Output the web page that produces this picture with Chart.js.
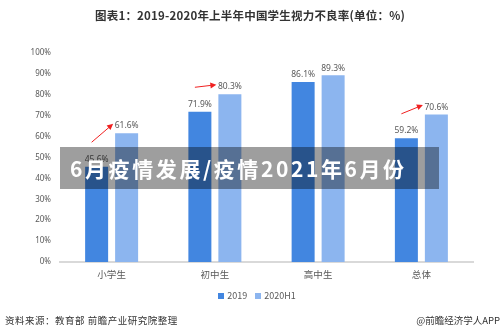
<!DOCTYPE html>
<html><head><meta charset="utf-8">
<script src="https://cdn.jsdelivr.net/npm/chart.js@4/dist/chart.umd.min.js"></script>
<style>
html,body{margin:0;padding:0;background:#fff;}
#wrap{position:relative;width:500px;height:336px;overflow:hidden;font-family:"Noto Sans CJK SC","Noto Sans",sans-serif;}
#c{position:absolute;left:0;top:0;}
.title{position:absolute;top:7px;left:0;width:500px;text-align:center;font-weight:bold;font-size:11.5px;letter-spacing:0.2px;color:#333;}
.legend{position:absolute;top:289px;left:7px;width:500px;text-align:center;font-size:9px;color:#595959;}
.legend span.sw{display:inline-block;width:6px;height:6px;margin-right:3px;vertical-align:0px;}
.src{position:absolute;top:313px;left:5px;font-size:9.5px;letter-spacing:0.5px;color:#333;}
.src2{position:absolute;top:313px;right:0;font-size:9.5px;color:#333;}
.banner{position:absolute;left:60px;top:147px;width:379px;height:42px;background:rgba(0,0,0,0.38);color:#fff;font-weight:bold;font-size:21px;letter-spacing:2.6px;line-height:42px;padding-left:10px;box-sizing:border-box;white-space:nowrap;}
</style></head>
<body><div id="wrap">
<canvas id="c" width="500" height="336"></canvas>
<div class="title">图表1：2019-2020年上半年中国学生视力不良率(单位：%)</div>
<div class="legend"><span class="sw" style="background:#4286E0"></span>2019&nbsp;&nbsp;&nbsp;&nbsp;<span class="sw" style="background:#8CB5EF"></span>2020H1</div>
<div class="src">资料来源：教育部 前瞻产业研究院整理</div>
<div class="src2">@前瞻经济学人APP</div>
<div class="banner">6月疫情发展/疫情2021年6月份</div>
</div>
<script>
const categories = ["小学生", "初中生", "高中生", "总体"];
const values2019 = [45.6, 71.9, 86.1, 59.2];
const values2020H1 = [61.6, 80.3, 89.3, 70.6];
const seriesNames = ["2019", "2020H1"];
const arrowCategories = [0, 1, 3];

const labelPlugin = {
  id: 'labels',
  afterDatasetsDraw(chart) {
    const ctx = chart.ctx;
    ctx.save();
    ctx.font = '8.5px "Noto Sans", sans-serif';
    ctx.fillStyle = '#595959';
    ctx.textAlign = 'center';
    ctx.textBaseline = 'bottom';
    chart.data.datasets.forEach((ds, di) => {
      chart.getDatasetMeta(di).data.forEach((bar, i) => {
        ctx.fillText(ds.data[i].toFixed(1) + '%', bar.x, bar.y - 3);
      });
    });
    const ys = chart.scales.y;
    const m0 = chart.getDatasetMeta(0).data, m1 = chart.getDatasetMeta(1).data;
    ctx.strokeStyle = '#f02020';
    ctx.fillStyle = '#f02020';
    ctx.lineWidth = 1;
    arrowCategories.forEach(i => {
      const x1 = m0[i].x - 5, y1 = ys.getPixelForValue(values2019[i] + 11.7);
      const x2 = m1[i].x - m1[i].width / 2 - 2, y2 = ys.getPixelForValue(values2020H1[i] + 4.5);
      const ang = Math.atan2(y2 - y1, x2 - x1);
      ctx.beginPath();
      ctx.moveTo(x1, y1);
      ctx.lineTo(x2 - 4 * Math.cos(ang), y2 - 4 * Math.sin(ang));
      ctx.stroke();
      ctx.beginPath();
      ctx.moveTo(x2, y2);
      ctx.lineTo(x2 - 6 * Math.cos(ang) + 3 * Math.sin(ang), y2 - 6 * Math.sin(ang) - 3 * Math.cos(ang));
      ctx.lineTo(x2 - 6 * Math.cos(ang) - 3 * Math.sin(ang), y2 - 6 * Math.sin(ang) + 3 * Math.cos(ang));
      ctx.closePath();
      ctx.fill();
    });
    ctx.restore();
  }
};

new Chart(document.getElementById('c'), {
  type: 'bar',
  data: {
    labels: categories,
    datasets: [
      { label: seriesNames[0], data: values2019, backgroundColor: '#4286E0', categoryPercentage: 0.581, barPercentage: 0.767 },
      { label: seriesNames[1], data: values2020H1, backgroundColor: '#8CB5EF', categoryPercentage: 0.581, barPercentage: 0.767 }
    ]
  },
  options: {
    responsive: false,
    animation: false,
    layout: { padding: { top: 53, right: 27, left: 0, bottom: 0 } },
    plugins: { legend: { display: false }, title: { display: false }, tooltip: { enabled: false } },
    scales: {
      x: {
        grid: { display: false, drawTicks: false },
        border: { display: true, color: '#d9d9d9', width: 2 },
        ticks: { color: '#595959', font: { size: 9.5, family: '"Noto Sans CJK SC", sans-serif' }, padding: 7 },
        afterFit(a) { a.height = 74; }
      },
      y: {
        min: 0, max: 100,
        grid: { display: false, drawTicks: false },
        border: { display: false },
        ticks: { stepSize: 10, color: '#595959', font: { size: 8, family: '"Noto Sans", sans-serif' }, padding: 9, callback: v => v + '%' },
        afterFit(a) { a.width = 60; }
      }
    }
  },
  plugins: [labelPlugin]
});
</script>
</body></html>
